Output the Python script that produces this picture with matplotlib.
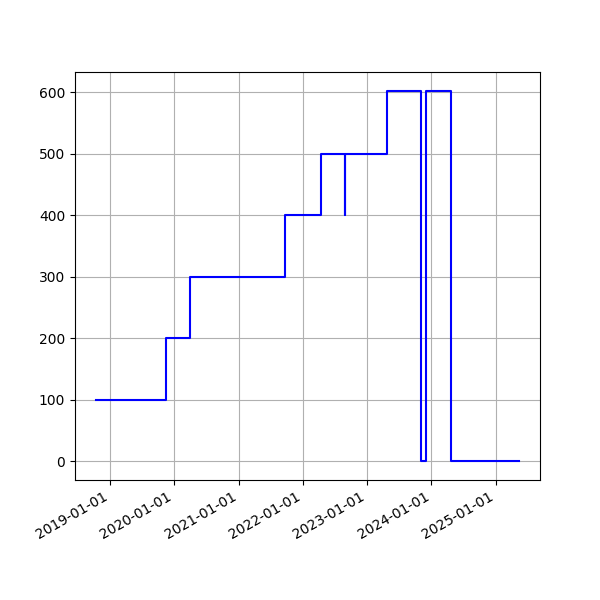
import numpy as np
import pandas as pd
import matplotlib
matplotlib.use('Agg')
import matplotlib.pyplot as plt
import matplotlib.dates as mdates

# change dates and the level that holds from each date on
dates = ['2018-10-14', '2019-11-17', '2020-04-01', '2021-09-21', '2022-04-12',
         '2022-08-26', '2022-08-28', '2023-04-24', '2023-11-02', '2023-12-02',
         '2024-04-23', '2025-05-12']
values = [100, 200, 300, 400, 500, 400, 500, 603, 0, 603, 0, 0]

x = pd.to_datetime(dates)

fig, ax = plt.subplots(figsize=(6, 6), dpi=100)
ax.step(x, values, where='post', color='b')
ax.grid(True)
ax.xaxis.set_major_locator(mdates.YearLocator())
ax.xaxis.set_major_formatter(mdates.DateFormatter('%Y-%m-%d'))
fig.autofmt_xdate()

fig.savefig('out.png')
